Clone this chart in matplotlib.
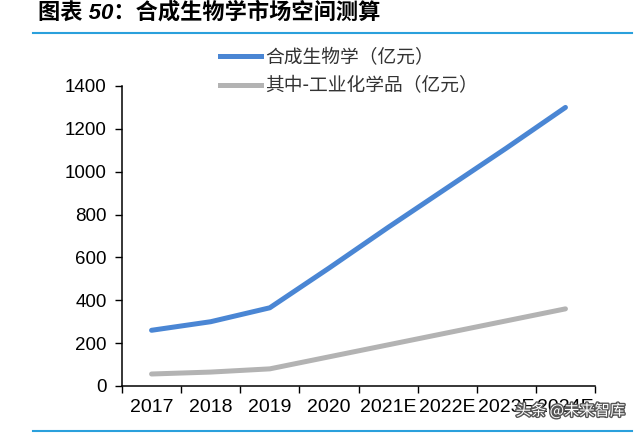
import matplotlib
matplotlib.use("Agg")
import matplotlib.pyplot as plt
import matplotlib.patheffects as pe
from matplotlib.lines import Line2D

categories = ["2017", "2018", "2019", "2020", "2021E", "2022E", "2023E", "2024E"]
synbio = [260, 300, 365, 550, 740, 925, 1110, 1300]
industrial_chem = [56, 65, 80, 136, 192, 248, 304, 360]
series_names = ["合成生物学（亿元）", "其中-工业化学品（亿元）"]
y_ticks = [0, 200, 400, 600, 800, 1000, 1200, 1400]

plt.rcParams['font.family'] = ['Liberation Sans', 'Noto Sans CJK SC', 'DejaVu Sans']

fig = plt.figure(figsize=(6.4, 4.34), dpi=100)
ax = fig.add_axes([122/640, 1-386/434, (595-122)/640, 300/434])

blue = "#4a86d4"
gray = "#b3b3b3"
x = list(range(len(categories)))
ax.plot(x, synbio, color=blue, lw=3.6, solid_capstyle='round', solid_joinstyle='round')
ax.plot(x, industrial_chem, color=gray, lw=3.6, solid_capstyle='round', solid_joinstyle='round')

ax.set_xlim(-0.5, len(categories) - 0.5)
ax.set_ylim(0, 1400)
ax.set_yticks(y_ticks)
ax.set_yticklabels([str(v) for v in y_ticks])
ax.set_xticks(x)
ax.set_xticklabels(categories)
ax.set_xticks([i - 0.5 for i in range(len(categories) + 1)], minor=True)
ax.tick_params(axis='x', which='major', length=0, pad=9, labelsize=14, colors='black')
ax.tick_params(axis='x', which='minor', length=5, width=1, direction='out')
ax.tick_params(axis='y', length=5, width=1, direction='out', pad=6, labelsize=13.5)
for s in ['top', 'right']:
    ax.spines[s].set_visible(False)
for s in ['left', 'bottom']:
    ax.spines[s].set_linewidth(1.1)
    ax.spines[s].set_color('black')

handles = [Line2D([], [], color=blue, lw=3.6), Line2D([], [], color=gray, lw=3.6)]
leg = fig.legend(handles, series_names, loc='upper left',
                 bbox_to_anchor=(203/640, 1-30/434), frameon=False,
                 handlelength=2.2, handletextpad=0.2, labelspacing=0.4,
                 prop={'family': ['Noto Sans CJK SC'], 'size': 13.5})
for t in leg.get_texts():
    t.set_color('#333333')

fig.text(38/640, 1-13/434, "图表 50：合成生物学市场空间测算", ha='left', va='center',
         fontsize=16, fontweight='bold', style='italic',
         family=['Liberation Sans', 'Noto Sans CJK SC'], color='black')

fig.add_artist(Line2D([33/640, 632/640], [1-33/434, 1-33/434], color='#2aa0dc', lw=1.5))
fig.add_artist(Line2D([33/640, 632/640], [1-431/434, 1-431/434], color='#2aa0dc', lw=1.5))

fig.text(625/640, 1-411/434, "头条 @未来智库", ha='right', va='center', fontsize=11,
         family=['Noto Sans CJK SC'], color='white',
         path_effects=[pe.withStroke(linewidth=2, foreground='#555555')])

fig.savefig("out.png", dpi=100)
